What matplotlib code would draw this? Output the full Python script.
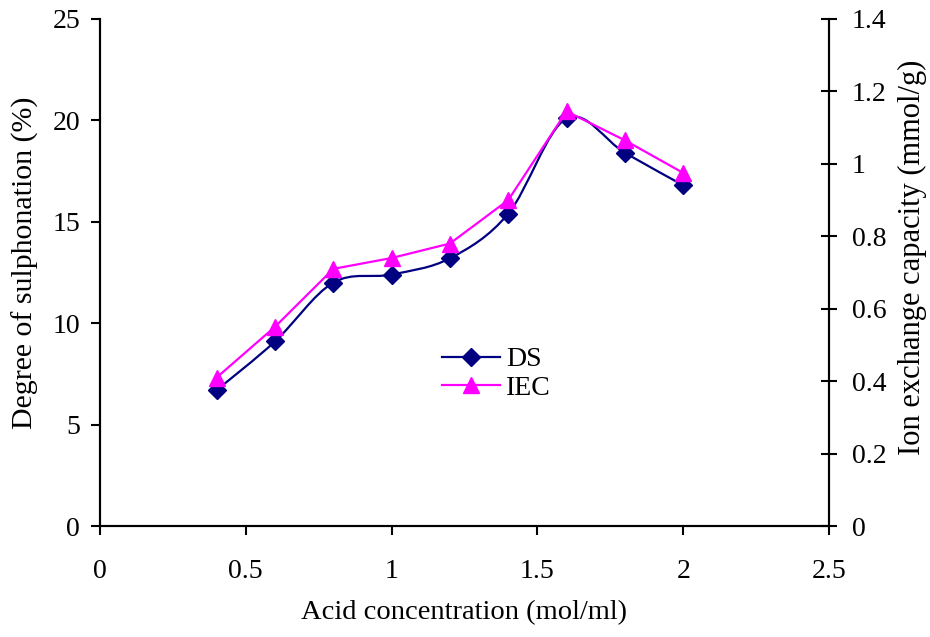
import matplotlib

matplotlib.use("Agg")

import matplotlib.pyplot as plt
from matplotlib.path import Path
from matplotlib.patches import PathPatch

plt.rcParams["font.family"] = ["Liberation Serif", "DejaVu Serif"]

NAVY = "#000080"
MAGENTA = "#FF00FF"
W, H = 930, 637

acid_conc = [0.4, 0.6, 0.8, 1.0, 1.2, 1.4, 1.6, 1.8, 2.0]
ds_values = [6.7, 9.1, 12.0, 12.4, 13.2, 15.4, 20.1, 18.4, 16.8]
iec_values = [0.41, 0.55, 0.71, 0.74, 0.78, 0.90, 1.145, 1.065, 0.975]

x_ticks = [0, 0.5, 1, 1.5, 2, 2.5]
x_tick_labels = ["0", "0.5", "1", "1.5", "2", "2.5"]
left_ticks = [0, 5, 10, 15, 20, 25]
right_ticks = [0, 0.2, 0.4, 0.6, 0.8, 1.0, 1.2, 1.4]
right_tick_labels = ["0", "0.2", "0.4", "0.6", "0.8", "1", "1.2", "1.4"]


def smooth_path(xs, ys):
    # Catmull-Rom style bezier through every point, like a spreadsheet "smoothed line"
    pts = list(zip(xs, ys))
    verts = [pts[0]]
    codes = [Path.MOVETO]
    for i in range(len(pts) - 1):
        p0 = pts[i - 1] if i > 0 else pts[i]
        p1 = pts[i]
        p2 = pts[i + 1]
        p3 = pts[i + 2] if i + 2 < len(pts) else pts[i + 1]
        c1 = (p1[0] + (p2[0] - p0[0]) / 6, p1[1] + (p2[1] - p0[1]) / 6)
        c2 = (p2[0] - (p3[0] - p1[0]) / 6, p2[1] - (p3[1] - p1[1]) / 6)
        verts += [c1, c2, p2]
        codes += [Path.CURVE4] * 3
    return Path(verts, codes)


fig = plt.figure(figsize=(W / 100, H / 100), dpi=100)
ax = fig.add_axes([100 / W, 1 - 526 / H, 729 / W, 507 / H])
ax2 = ax.twinx()

ax.add_patch(PathPatch(smooth_path(acid_conc, ds_values), facecolor="none",
                       edgecolor=NAVY, linewidth=1.6, zorder=3))
ax.plot(acid_conc, ds_values, linestyle="none", marker="D", markersize=9.5,
        color=NAVY, zorder=4)
ds_handle, = ax.plot([], [], color=NAVY, linewidth=1.6, marker="D", markersize=9)

iec_line, = ax2.plot(acid_conc, iec_values, color=MAGENTA, linewidth=1.6,
                     marker="^", markersize=11, zorder=3)

ax.set_xlim(0, 2.5)
ax.set_ylim(0, 25)
ax2.set_ylim(0, 1.4)

ax.set_xticks(x_ticks, labels=x_tick_labels)
ax.set_yticks(left_ticks)
ax2.set_yticks(right_ticks, labels=right_tick_labels)

for a in (ax, ax2):
    a.spines["top"].set_visible(False)
    for spine in a.spines.values():
        spine.set_linewidth(1.5)
        spine.set_color("black")

ax.tick_params(axis="both", direction="out", length=6.5, width=1.5, labelsize=20)
ax.tick_params(axis="y", pad=7.9)
ax.tick_params(axis="x", pad=17)
ax2.tick_params(axis="y", direction="inout", length=11.5, width=1.5,
                labelsize=20, pad=10.8)

fig.text(464 / W, 1 - 613 / H, "Acid concentration (mol/ml)", fontsize=20.5,
         ha="center", va="center")
fig.text(25 / W, 1 - 263 / H, "Degree of sulphonation (%)", fontsize=21.5,
         rotation=90, ha="center", va="center")
fig.text(912 / W, 1 - 455 / H, "Ion exchange capacity (mmol/g)", fontsize=22,
         rotation=90, ha="center", va="bottom")

ax.legend([ds_handle, iec_line], ["DS", "IEC"], loc="upper left",
          bbox_to_anchor=(442 / W, 1 - 347 / H), bbox_transform=fig.transFigure,
          frameon=False, fontsize=20, handlelength=2.1, handletextpad=0.2,
          labelspacing=0.1, borderpad=0, borderaxespad=0)

fig.savefig("out.png", dpi=100, facecolor="white")
